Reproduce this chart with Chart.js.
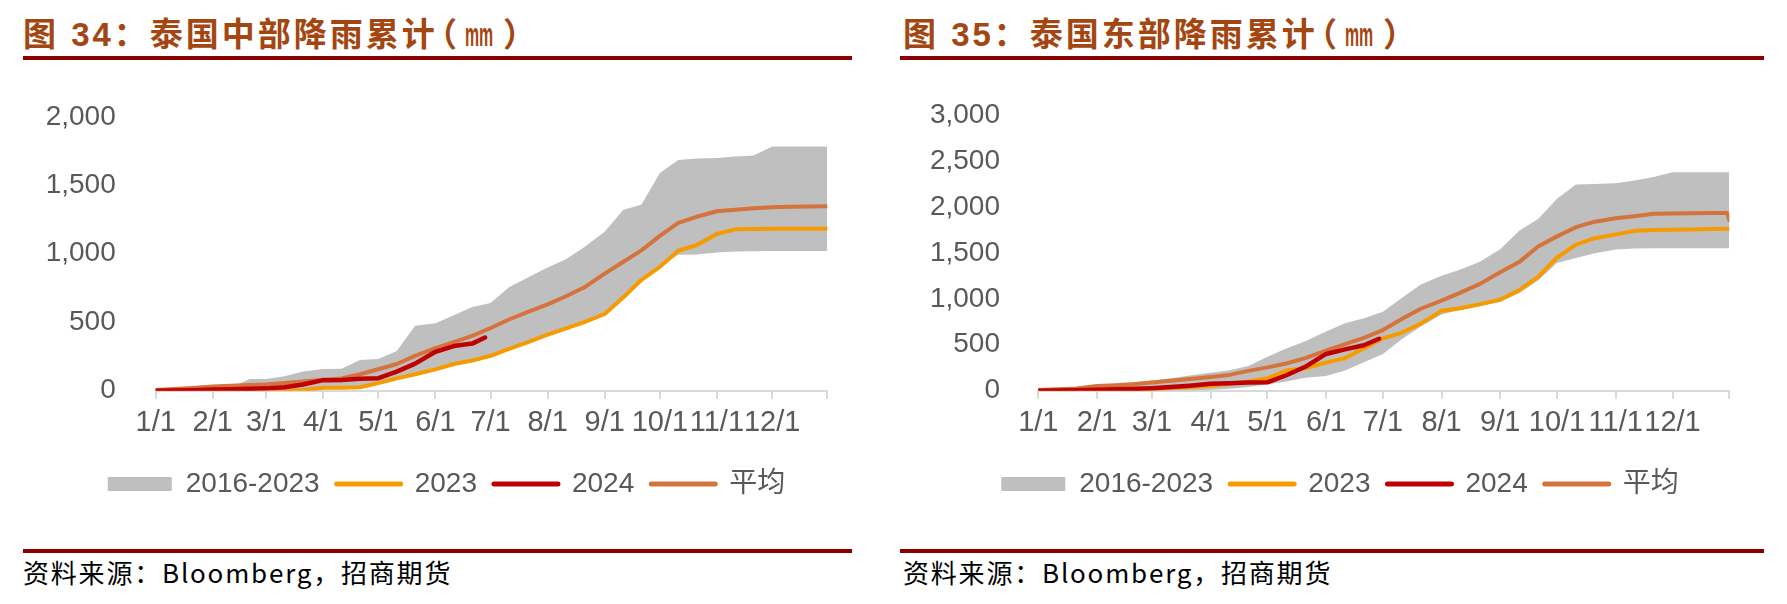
<!DOCTYPE html>
<html>
<head>
<meta charset="utf-8">
<script src="https://cdn.jsdelivr.net/npm/chart.js@4.4.1/dist/chart.umd.min.js"></script>
<style>
  body { margin: 0; width: 1787px; height: 604px; background: #fff; position: relative; overflow: hidden; }
  .title { position: absolute; top: 13px; line-height: 44px; font-size: 33px; font-weight: bold; color: #A34612;
           letter-spacing: 3px; white-space: nowrap; font-family: "Liberation Sans", "Noto Sans CJK SC", sans-serif; }
  .title .p1 { margin-left: -14px; letter-spacing: 0; }
  .title .p2 { letter-spacing: 0; margin-left: 4px; }
  .title .mm { display: inline-block; width: 26px; margin: 0 8px; letter-spacing: 0;
               transform: scaleX(0.48); transform-origin: left center; }
  .rule { position: absolute; height: 4px; background: #8B0000; }
  .src { position: absolute; top: 554px; line-height: 36px; font-size: 26px; color: #000; letter-spacing: 1.8px;
         white-space: nowrap; font-family: "Noto Sans CJK SC", sans-serif; }
  canvas { position: absolute; top: 60px; }
</style>
</head>
<body>
<div class="title" style="left:23px">图 34：泰国中部降雨累计<span class="p1">（</span><span class="mm">mm</span><span class="p2">）</span></div>
<div class="title" style="left:903px">图 35：泰国东部降雨累计<span class="p1">（</span><span class="mm">mm</span><span class="p2">）</span></div>
<div class="rule" style="left:23px;top:56px;width:829px"></div>
<div class="rule" style="left:900px;top:56px;width:864px"></div>
<canvas id="central" width="893" height="470" style="left:0"></canvas>
<canvas id="east" width="894" height="470" style="left:893px"></canvas>
<div class="rule" style="left:23px;top:549px;width:829px"></div>
<div class="rule" style="left:900px;top:549px;width:864px"></div>
<div class="src" style="left:23px">资料来源：Bloomberg，招商期货</div>
<div class="src" style="left:903px">资料来源：Bloomberg，招商期货</div>

<script>
// jour de l'année (2024, bissextile) pour chaque point
const days = [0, 10, 20, 31, 41, 51, 60, 70, 80, 91, 101, 111, 121, 131, 141, 152, 162, 172, 182,
  192, 202, 213, 223, 233, 244, 254, 264, 274, 284, 294, 305, 315, 325, 335, 345, 355, 364, 365];
const monthDays = [0, 31, 60, 91, 121, 152, 182, 213, 244, 274, 305, 335];
const monthLabels = ['1/1', '2/1', '3/1', '4/1', '5/1', '6/1', '7/1', '8/1', '9/1', '10/1', '11/1', '12/1'];
const legendNames = ['2016-2023', '2023', '2024', '平均'];

// 泰国中部
const centralHigh = [10, 12, 15, 20, 26, 86, 86, 105, 141, 158, 160, 225, 232, 290, 475, 493, 551, 612, 640,
  755, 825, 900, 960, 1050, 1160, 1320, 1360, 1590, 1685, 1695, 1700, 1710, 1718, 1783, 1783, 1783, 1783, 1783];
const centralLow = [0, 0, 0, 0, 0, 0, 0, 0, 5, 21, 21, 25, 55, 90, 120, 156, 195, 220, 255,
  305, 353, 410, 455, 500, 560, 680, 810, 905, 993, 995, 1010, 1016, 1018, 1020, 1020, 1020, 1020, 1020];
const central2023 = [0, 0, 0, 0, 0, 0, 0, 0, 5, 21, 21, 25, 55, 90, 120, 156, 195, 220, 255,
  305, 353, 410, 455, 500, 560, 680, 810, 905, 1022, 1063, 1144, 1178, 1180, 1182, 1183, 1183, 1183, 1183];
const centralAvg = [5, 12, 20, 30, 36, 41, 45, 57, 68, 80, 90, 120, 157, 195, 254, 311, 355, 400, 458,
  520, 574, 630, 690, 755, 855, 940, 1025, 1130, 1225, 1270, 1310, 1322, 1333, 1340, 1343, 1345, 1346, 1346];
const central2024Days = [0, 10, 20, 31, 41, 51, 60, 70, 80, 91, 101, 111, 121, 131, 141, 152, 162, 172, 179];
const central2024 = [0, 2, 4, 8, 10, 14, 17, 25, 45, 77, 79, 88, 91, 139, 198, 284, 326, 344, 388];

// 泰国东部
const eastHigh = [24, 30, 35, 40, 60, 91, 110, 135, 165, 195, 222, 270, 370, 460, 538, 645, 735, 790, 860,
  1010, 1155, 1250, 1320, 1400, 1540, 1740, 1870, 2090, 2245, 2250, 2258, 2288, 2325, 2378, 2378, 2378, 2378, 2378];
const eastLow = [0, 0, 0, 0, 0, 0, 0, 0, 0, 10, 20, 40, 70, 100, 140, 160, 220, 310, 400,
  560, 700, 830, 880, 920, 970, 1060, 1200, 1390, 1445, 1495, 1538, 1548, 1550, 1550, 1550, 1550, 1550, 1550];
const east2023 = [0, 0, 2, 5, 8, 12, 18, 30, 40, 55, 75, 100, 135, 220, 244, 305, 355, 460, 570,
  630, 730, 870, 898, 940, 990, 1095, 1240, 1450, 1590, 1660, 1702, 1740, 1750, 1752, 1755, 1760, 1762, 1762];
const eastAvg = [7, 15, 25, 50, 60, 72, 90, 108, 127, 149, 172, 216, 254, 296, 355, 437, 506, 576, 660,
  780, 892, 980, 1068, 1160, 1290, 1400, 1570, 1680, 1780, 1840, 1878, 1900, 1925, 1930, 1932, 1934, 1935, 1855];
const east2024Days = [0, 10, 20, 31, 41, 51, 60, 70, 80, 91, 101, 111, 121, 131, 141, 152, 162, 172, 180];
const east2024 = [0, 2, 5, 10, 15, 20, 28, 40, 55, 75, 82, 88, 91, 168, 260, 400, 450, 495, 565];

const GRAY = '#BFBFBF', ORANGE = '#F59B00', RED = '#C00000', AVG = '#D5733C';
const TXT = '#595959';
const FONT = '"Liberation Sans", "Noto Sans CJK SC", sans-serif';

function pts(xs, ys) {
  return ys.map((v, i) => ({ x: xs[i], y: v }));
}

function legendItems() {
  return [
    { text: legendNames[0], fillStyle: GRAY, strokeStyle: GRAY, lineWidth: 0, pointStyle: 'rect', fontColor: TXT },
    { text: legendNames[1], fillStyle: ORANGE, strokeStyle: ORANGE, lineWidth: 5, lineCap: 'round', pointStyle: 'line', fontColor: TXT },
    { text: legendNames[2], fillStyle: RED, strokeStyle: RED, lineWidth: 5, lineCap: 'round', pointStyle: 'line', fontColor: TXT },
    { text: legendNames[3], fillStyle: AVG, strokeStyle: AVG, lineWidth: 5, lineCap: 'round', pointStyle: 'line', fontColor: TXT },
  ];
}

function buildChart(id, s) {
  const ctx = document.getElementById(id).getContext('2d');
  return new Chart(ctx, {
    type: 'line',
    data: {
      datasets: [
        { label: '2024', data: pts(s.d24, s.v24), borderColor: RED, borderWidth: 4.5, order: 1 },
        { label: '平均', data: pts(days, s.avg), borderColor: AVG, order: 2 },
        { label: '2023', data: pts(days, s.y23), borderColor: ORANGE, order: 3 },
        { label: '2016-2023', data: pts(days, s.hi), borderWidth: 0, borderColor: 'transparent',
          backgroundColor: GRAY, fill: 4, order: 4 },
        { label: 'min', data: pts(days, s.lo), borderWidth: 0, borderColor: 'transparent', order: 5 },
      ]
    },
    options: {
      responsive: false,
      animation: false,
      layout: { padding: { left: 0, right: 0, top: s.padT, bottom: 22 } },
      elements: {
        point: { radius: 0, hoverRadius: 0 },
        line: { tension: 0, borderWidth: 4, borderCapStyle: 'round', borderJoinStyle: 'round', fill: false }
      },
      plugins: {
        tooltip: { enabled: false },
        legend: {
          position: 'bottom',
          labels: {
            usePointStyle: true, pointStyleWidth: 64, boxWidth: 64, boxHeight: 14, padding: 17,
            color: TXT, font: { size: 28, family: FONT },
            generateLabels: legendItems
          }
        }
      },
      scales: {
        x: {
          type: 'linear', min: 0, max: 365,
          afterBuildTicks: sc => { sc.ticks = monthDays.concat([365]).map(v => ({ value: v })); },
          afterFit: sc => { sc.height = 62.3; },
          ticks: {
            autoSkip: false, maxRotation: 0, minRotation: 0, padding: 7, color: TXT,
            font: { size: 29, family: FONT },
            callback: v => { const i = monthDays.indexOf(v); return i >= 0 ? monthLabels[i] : ''; }
          },
          grid: { drawOnChartArea: false, drawTicks: true, tickLength: 8, color: '#D9D9D9', lineWidth: 2 },
          border: { color: '#D9D9D9', width: 2 }
        },
        y: {
          min: 0, max: s.ymax,
          afterFit: sc => { sc.width = s.yw; },
          ticks: { stepSize: 500, padding: s.ypad, color: TXT, font: { size: 28, family: FONT },
                   callback: v => v.toLocaleString('en-US') },
          grid: { display: false, drawTicks: false },
          border: { display: false }
        },
        // marge droite vide (garde la légende centrée sur toute la largeur)
        yRight: {
          position: 'right', display: true, min: 0, max: 1,
          afterFit: sc => { sc.width = s.rightW; },
          ticks: { display: false },
          grid: { display: false, drawTicks: false },
          border: { display: false }
        }
      }
    }
  });
}

buildChart('central', { hi: centralHigh, lo: centralLow, y23: central2023, avg: centralAvg,
  d24: central2024Days, v24: central2024, ymax: 2000, yw: 155.7, ypad: 40, rightW: 65.7, padT: 44 });
buildChart('east', { hi: eastHigh, lo: eastLow, y23: east2023, avg: eastAvg,
  d24: east2024Days, v24: east2024, ymax: 3000, yw: 145.3, ypad: 38.3, rightW: 57.7, padT: 36.5 });
</script>
</body>
</html>
